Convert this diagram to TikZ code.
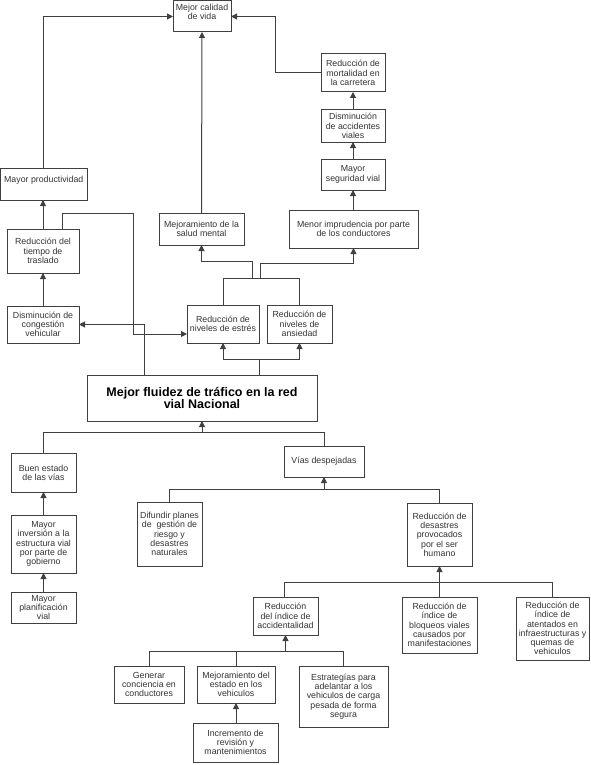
\documentclass[tikz,border=0pt]{standalone}
\usepackage{fontspec}
\setmainfont{Liberation Sans}
\usetikzlibrary{arrows.meta}
\begin{document}
\begin{tikzpicture}[x=1pt,y=-1pt,
  box/.style={draw=black!75, line width=1pt, rectangle, align=center, inner sep=1pt, outer sep=0pt,
    font=\fontsize{8.8}{9.3}\selectfont, text=black!80},
  titlebox/.style={box, font=\fontsize{12.5}{12}\selectfont\bfseries, text=black},
  con/.style={draw=black!75, line width=1pt},
  arr/.style={con, -{Triangle[length=6pt,width=6pt]}}]
\useasboundingbox (0,0) rectangle (590,765);

% upper part
\node[box, minimum width=58, minimum height=31] (cal) at (202,16.5) {Mejor calidad\\de vida\\~};
\node[box, minimum width=86.5, minimum height=32] (prod) at (43.75,184) {Mayor productividad\\~};
\node[box, minimum width=64, minimum height=38] (mort) at (353,73) {Reducción de\\mortalidad en\\la carretera};
\node[box, minimum width=64, minimum height=32] (acc) at (353,126) {Disminución\\de accidentes\\viales};
\node[box, minimum width=64, minimum height=31] (seg) at (353,174.5) {Mayor\\seguridad vial};
\node[box, minimum width=129, minimum height=38] (impr) at (353.5,229) {Menor imprudencia por parte\\de los conductores};
\node[box, minimum width=85, minimum height=32] (salud) at (201.5,229) {Mejoramiento de la\\salud mental};
\node[box, minimum width=72, minimum height=44] (tiempo) at (43,251) {Reducción del\\tiempo de\\traslado};
\node[box, minimum width=72, minimum height=37] (cong) at (43,324.5) {Disminución de\\congestión\\vehicular};
\node[box, minimum width=72, minimum height=38] (estres) at (223,324) {Reducción de\\niveles de estrés};
\node[box, minimum width=65, minimum height=38] (ansiedad) at (299.5,324) {Reducción de\\niveles de\\ansiedad};
\node[titlebox, minimum width=230, minimum height=46] (fluidez) at (202,398) {Mejor fluidez de tráfico en la red\\vial Nacional};

% lower part
\node[box, minimum width=65, minimum height=39] (buen) at (43.5,472.5) {Buen estado\\de las vías};
\node[box, minimum width=65, minimum height=58] (inv) at (43.5,544) {Mayor\\inversión a la\\estructura vial\\por parte de\\gobierno};
\node[box, minimum width=65, minimum height=31] (plan) at (43.5,607.5) {Mayor\\planificación\\vial};
\node[box, minimum width=65, minimum height=64] (dif) at (169.5,534) {Difundir planes\\de~ gestión de\\riesgo y\\desastres\\naturales};
\node[box, minimum width=80, minimum height=31] (vias) at (324,461.5) {Vías despejadas};
\node[box, minimum width=65, minimum height=63] (des) at (439.5,534.5) {Reducción de\\desastres\\provocados\\por el ser\\humano};
\node[box, minimum width=65, minimum height=38] (accid) at (285.5,616) {Reducción\\del índice de\\accidentalidad};
\node[box, minimum width=75, minimum height=56] (bloq) at (439.5,625) {Reducción de\\índice de\\bloqueos viales\\causados por\\manifestaciones};
\node[box, minimum width=73, minimum height=63] (atent) at (552.5,628.5) {Reducción de\\índice de\\atentados en\\infraestructuras y\\quemas de\\vehiculos};
\node[box, minimum width=70, minimum height=37] (gen) at (149,684.5) {Generar\\conciencia en\\conductores};
\node[box, minimum width=78, minimum height=37] (mejest) at (236,684.5) {Mejoramiento del\\estado en los\\vehiculos};
\node[box, minimum width=89, minimum height=61] (estr) at (343.5,696.5) {Estrategías para\\adelantar a los\\vehiculos de carga\\pesada de forma\\segura};
\node[box, minimum width=85, minimum height=39] (incr) at (235.5,742.5) {Incremento de\\revisión y\\mantenimientos};

% connectors, upper part
\draw[arr] (prod.north) |- (cal.west);
\draw[arr] (salud.north) -- (cal.south);
\draw[arr] (mort.west) -- ++(-46,0) |- (cal.east);
\draw[arr] (acc.north) -- (mort.south);
\draw[arr] (seg.north) -- (acc.south);
\draw[arr] (impr.north -| seg.north) -- (seg.south);
\draw[arr] (tiempo.north) -- (tiempo.north |- prod.south);
\draw[arr] ([xshift=19]tiempo.north) -- ++(0,-16) -| ++(71,0) |- ([yshift=-10]estres.west);
\draw[arr] (cong.north) -- (tiempo.south);
\draw[arr] ([xshift=-58]fluidez.north) |- (cong.east);
\draw[con] ([xshift=57]fluidez.north) -- ++(0,-16) coordinate (j1);
\draw[arr] (j1) -| (estres.south);
\draw[arr] (j1) -| (ansiedad.south);
\draw[con] (estres.north) -- ++(0,-27) coordinate (j2) -| (ansiedad.north);
\draw[arr] ([xshift=29]j2) -- ++(0,-17) -| (salud.south);
\draw[arr] ([xshift=37]j2) -- ++(0,-15) -| (impr.south);

% connectors, lower part
\draw[con] (buen.north) -- ++(0,-21) coordinate (j3) -| (vias.north);
\draw[arr] (j3 -| fluidez.south) -- (fluidez.south);
\draw[arr] (inv.north) -- (buen.south);
\draw[arr] (plan.north) -- (inv.south);
\draw[con] (dif.north) -- ++(0,-13) coordinate (j4) -| (des.north);
\draw[arr] (j4 -| vias.south) -- (vias.south);
\draw[con] ([xshift=-1.5]accid.north) -- ++(0,-15) coordinate (j5) -| (atent.north);
\draw[arr] (bloq.north) -- (des.south);
\draw[con] (gen.north) -- ++(0,-15) coordinate (j6) -| (estr.north);
\draw[con] (mejest.north) -- (mejest.north |- j6);
\draw[arr] (j6 -| accid.south) -- (accid.south);
\draw[arr] (incr.north -| mejest.south) -- (mejest.south);
\end{tikzpicture}
\end{document}
